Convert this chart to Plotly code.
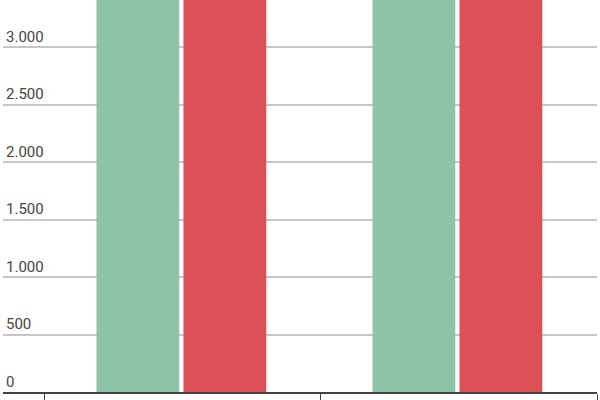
import plotly.graph_objects as go

# data (the bars run past the top of the view, so heights are estimates)
categories = ["Gruppe 1", "Gruppe 2"]
series_names = ["Serie A", "Serie B"]
series_a = [4200, 4300]
series_b = [4100, 4000]
colors = ["#8fc3a7", "#dc5156"]

BAR_W = 0.3
offsets = [-0.3134, 0.0018]

fig = go.Figure()
for name, vals, col, off in zip(series_names, [series_a, series_b], colors, offsets):
    fig.add_trace(go.Bar(
        x=categories, y=vals, name=name,
        width=BAR_W, offset=off,
        marker=dict(color=col, line=dict(width=0)),
    ))

fig.update_layout(
    width=600, height=400,
    margin=dict(l=3, r=3, t=0, b=8, autoexpand=False),
    paper_bgcolor="white", plot_bgcolor="white",
    barmode="overlay",
    showlegend=False,
    separators=",.",
    font=dict(family="Roboto", size=15, color="#444444"),
)
fig.update_yaxes(
    range=[0, 3410], dtick=500, tickformat=",d",
    ticklabelposition="inside top", ticks="",
    showgrid=True, gridcolor="#c6c6c6", gridwidth=1.5,
    zeroline=False, showline=False, automargin=False,
)
fig.update_xaxes(
    type="category", range=[-0.652, 1.5],
    tickson="boundaries", ticks="outside", ticklen=8,
    tickcolor="#444444", tickwidth=1,
    showline=True, linecolor="#444444", linewidth=2,
    showticklabels=False, showgrid=False, automargin=False,
)

# page body has an 8px default margin; drop it so the figure sits at 0,0
fig.write_html("out.html", config={"displayModeBar": False},
               post_script="document.body.style.margin='0';")
